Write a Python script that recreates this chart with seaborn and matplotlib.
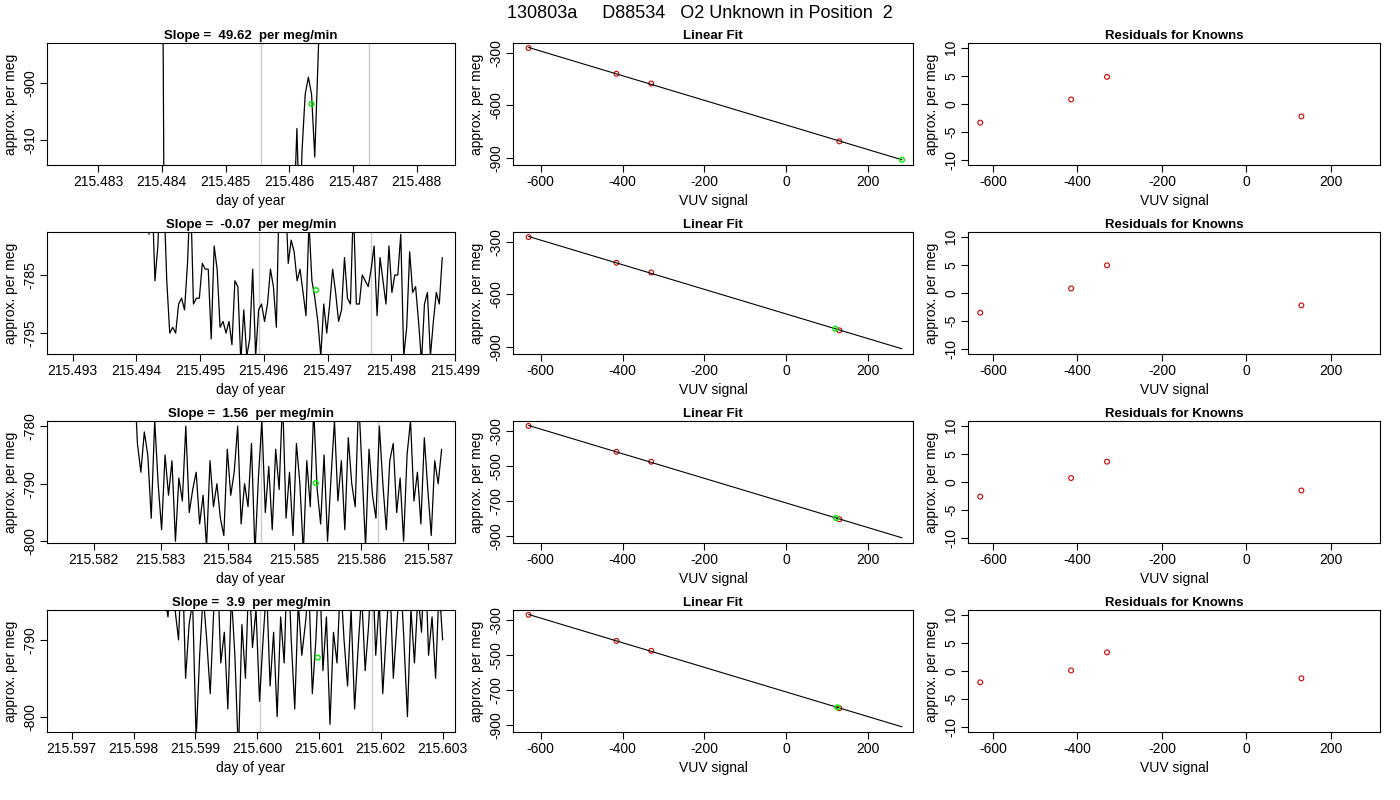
import numpy as np
import pandas as pd
import matplotlib
matplotlib.use("Agg")
import matplotlib.pyplot as plt
import seaborn as sns

sns.set_theme(style="white")
plt.rcParams['font.family'] = ['Liberation Sans', 'DejaVu Sans']
plt.rcParams['axes.unicode_minus'] = False
plt.rcParams['text.color'] = 'black'
plt.rcParams['axes.labelcolor'] = 'black'
plt.rcParams['xtick.color'] = 'black'
plt.rcParams['ytick.color'] = 'black'

title = "130803a     D88534   O2 Unknown in Position  2"
slopes = ["49.62", "-0.07", "1.56", "3.9"]

# time-series panels
t1 = [215.4840, 215.48405, 215.4861, 215.48612, 215.48615, 215.48618, 215.4862, 215.48625, 215.4863, 215.48635, 215.4864, 215.4865]
v1 = [-850, -950, -914.5, -908, -920, -920, -912, -902, -899, -902, -913, -880]
v2 = [-778,-770,-786,-780,-765,-771,-786,-795,-794,-795,-790,-789,-791,-783,-770,-790,-789,-789,-783,-784,
      -784,-796,-780,-784,-794,-793,-795,-793,-797,-786,-787,-800,-791,-799,-796,-784,-799,-791,-790,-793,
      -790,-784,-787,-794,-770,-775,-770,-783,-779,-781,-786,-784,-788,-792,-776,-786,-789,-793,-799,-790,
      -795,-790,-784,-788,-793,-791,-782,-789,-790,-773,-790,-790,-785,-786,-787,-784,-780,-792,-782,-786,
      -790,-780,-788,-785,-785,-778,-799,-794,-781,-788,-787,-793,-800,-790,-788,-799,-793,-788,-790,-782]
v3 = [-770,-783,-788,-781,-785,-796,-779,-790,-798,-785,-792,-786,-800,-789,-793,-780,-795,-791,-788,-797,
      -792,-801,-786,-794,-790,-796,-799,-784,-792,-788,-780,-797,-790,-794,-783,-802,-789,-779,-795,-787,
      -798,-784,-791,-775,-796,-788,-799,-783,-790,-802,-786,-794,-777,-791,-797,-785,-800,-789,-779,-793,
      -786,-798,-782,-790,-794,-775,-788,-801,-784,-792,-796,-780,-790,-798,-786,-783,-795,-789,-800,-785,
      -779,-793,-788,-797,-782,-791,-799,-786,-790,-784]
v4 = [-784,-787,-780,-786,-790,-778,-795,-788,-785,-803,-792,-784,-790,-797,-786,-780,-793,-789,-799,-784,
      -792,-805,-788,-795,-781,-791,-786,-798,-790,-783,-796,-789,-800,-787,-793,-778,-790,-799,-785,-792,
      -788,-783,-797,-790,-780,-794,-787,-801,-789,-793,-782,-790,-796,-786,-799,-791,-784,-794,-788,-779,
      -792,-785,-797,-789,-782,-795,-788,-781,-790,-800,-786,-793,-784,-789,-778,-792,-787,-795,-783,-790]
times = [t1,
         list(np.linspace(215.4942, 215.4988, len(v2))),
         list(np.linspace(215.5826, 215.5872, len(v3))),
         list(np.linspace(215.5985, 215.6030, len(v4)))]
series = [v1, v2, v3, v4]
xlims1 = [(215.4822, 215.4886), (215.4926, 215.4990), (215.5813, 215.5874), (215.5966, 215.6032)]
ylims1 = [(-914.4, -893), (-798.6, -777.6), (-800.3, -779.1), (-802, -786.1)]
xticks1 = [np.arange(215.483, 215.4885, 0.001), np.arange(215.493, 215.4995, 0.001),
           np.arange(215.582, 215.5875, 0.001), np.arange(215.597, 215.6035, 0.001)]
yticks1 = [[-900, -910], [-785, -795], [-780, -790, -800], [-790, -800]]
gray1 = [(215.48555, 215.48725), (215.49592, 215.49768), (215.5845, 215.58625), (215.60005, 215.60185)]
green_t = [215.48635, 215.49682, 215.58532, 215.60098]
green_v = [-903.7, -787.6, -789.9, -792.3]

# linear fit panels
known_x = [-630, -415, -330, 130]
resid = [[-3.3, 0.8, 4.8, -2.2], [-3.5, 0.8, 4.9, -2.2], [-2.6, 0.7, 3.6, -1.5], [-2.0, 0.1, 3.3, -1.3]]
intercept = -712.0
slope = -0.701
unk_x = [283, 120, 122, 125]
yticks2 = [[-300, -600, -900], [-300, -600, -900], [-300, -500, -700, -900], [-300, -500, -700, -900]]

fig = plt.figure(figsize=(14, 8), dpi=100)
W, H = 1400, 800
lefts = [47, 513, 968]
widths = [408, 400, 412]
tops = [43, 232, 421, 610]
hgt = 122
FS = 10

def style(ax):
    for s in ax.spines.values():
        s.set_color("black"); s.set_linewidth(0.8)
    ax.tick_params(axis="both", direction="out", length=5, width=0.8, labelsize=FS, color="black",
                   bottom=True, left=True, pad=2)
    for lab in ax.get_yticklabels():
        lab.set_rotation(90); lab.set_va("center")

fig.text(0.5, 1 - 13 / H, title, ha="center", va="center", fontsize=13)

for r in range(4):
    y0 = 1 - (tops[r] + hgt) / H
    # column 1
    ax = fig.add_axes([lefts[0] / W, y0, widths[0] / W, hgt / H])
    for g in gray1[r]:
        ax.axvline(g, color="#cccccc", lw=1)
    df = pd.DataFrame({"t": times[r], "v": series[r]})
    sns.lineplot(data=df, x="t", y="v", ax=ax, color="black", lw=0.9, sort=False, estimator=None)
    ax.scatter([green_t[r]], [green_v[r]], s=12, facecolors="none", edgecolors="#00ee00", lw=1, zorder=5)
    ax.set_xlim(*xlims1[r]); ax.set_ylim(*ylims1[r])
    ax.set_xticks(xticks1[r]); ax.set_xticklabels([f"{v:.3f}" for v in xticks1[r]])
    ax.set_yticks(yticks1[r])
    ax.set_xlabel("day of year", fontsize=FS, labelpad=4); ax.set_ylabel("approx. per meg", fontsize=FS, labelpad=4)
    ax.set_title(f"Slope =  {slopes[r]}  per meg/min", fontsize=9.5, fontweight="bold", pad=3)
    style(ax)

    # column 2
    ax = fig.add_axes([lefts[1] / W, y0, widths[1] / W, hgt / H])
    ky = [intercept + slope * x + e for x, e in zip(known_x, resid[r])]
    lx = np.array([known_x[0], unk_x[0]])
    sns.lineplot(x=lx, y=intercept + slope * lx, ax=ax, color="black", lw=0.8)
    sns.scatterplot(x=known_x, y=ky, ax=ax, s=12, facecolors="none", edgecolor="#cc0000", linewidth=0.8, marker="o")
    ax.scatter([unk_x[r]], [intercept + slope * unk_x[r]], s=12, facecolors="none", edgecolors="#00ee00", lw=1, zorder=5)
    ax.set_xlim(-668, 310); ax.set_ylim(-940, -245)
    ax.set_xticks([-600, -400, -200, 0, 200]); ax.set_yticks(yticks2[r])
    ax.set_xlabel("VUV signal", fontsize=FS, labelpad=4); ax.set_ylabel("approx. per meg", fontsize=FS, labelpad=4)
    ax.set_title("Linear Fit", fontsize=9.5, fontweight="bold", pad=3)
    style(ax)

    # column 3
    ax = fig.add_axes([lefts[2] / W, y0, widths[2] / W, hgt / H])
    sns.scatterplot(x=known_x, y=resid[r], ax=ax, s=12, facecolors="none", edgecolor="#cc0000", linewidth=0.8, marker="o")
    ax.set_xlim(-659, 316); ax.set_ylim(-10.8, 10.8)
    ax.set_xticks([-600, -400, -200, 0, 200]); ax.set_yticks([-10, -5, 0, 5, 10])
    ax.set_xlabel("VUV signal", fontsize=FS, labelpad=4); ax.set_ylabel("approx. per meg", fontsize=FS, labelpad=4)
    ax.set_title("Residuals for Knowns", fontsize=9.5, fontweight="bold", pad=3)
    style(ax)

fig.savefig("out.png", dpi=100)
